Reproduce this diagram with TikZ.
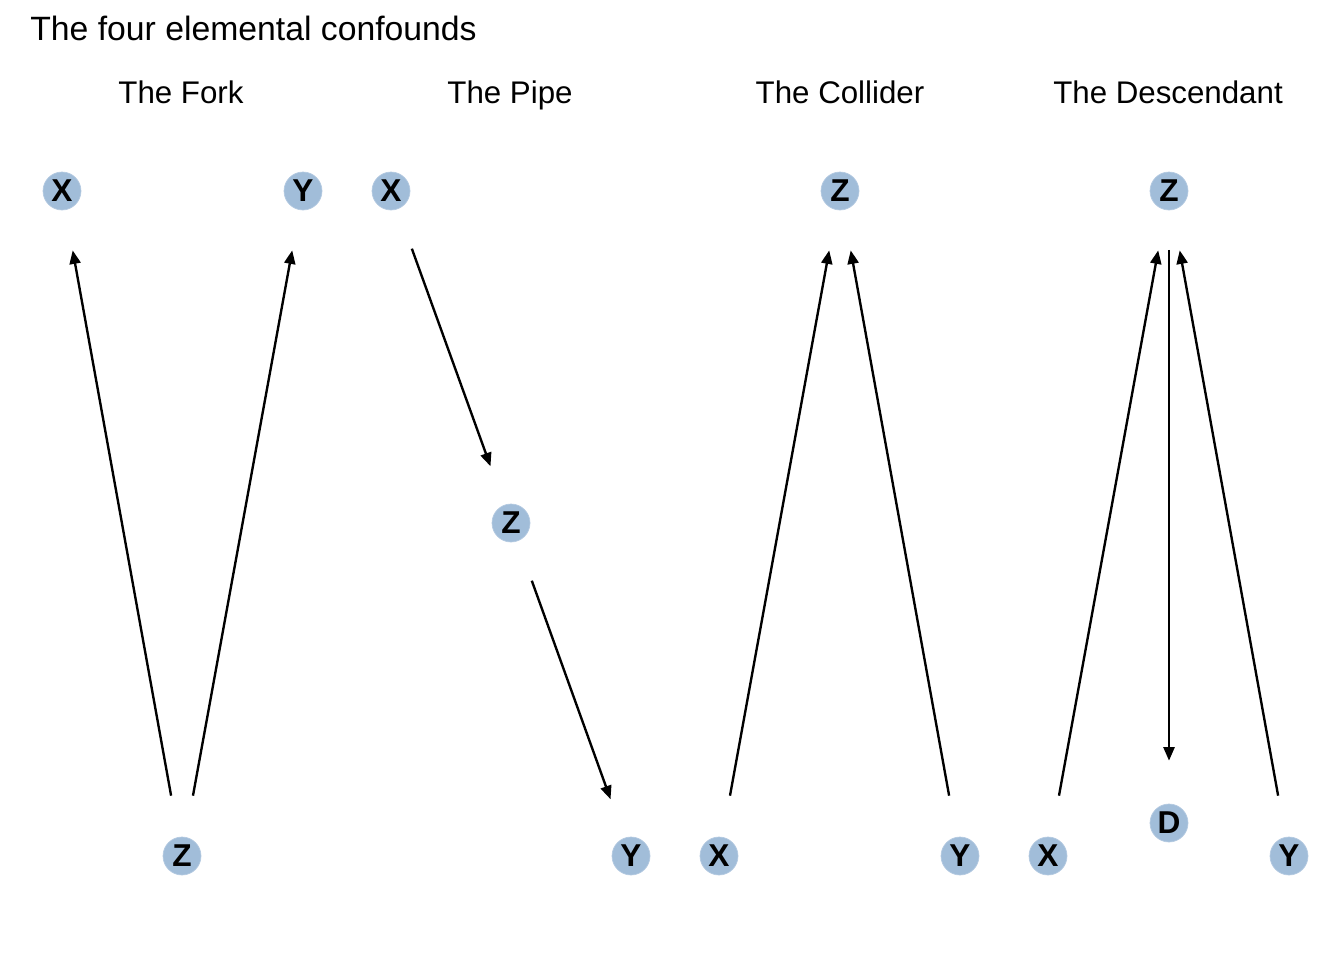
\documentclass[tikz,border=0pt]{standalone}
\usepackage{fontspec}
\setmainfont{Liberation Sans}
\usepackage{xcolor}
\usetikzlibrary{arrows.meta, positioning}
\definecolor{nodeblue}{RGB}{161,189,217}

\begin{document}
\begin{tikzpicture}[x=0.02cm, y=-0.02cm,
    var/.style={circle, fill=nodeblue, draw=nodeblue!80, line width=0.4pt, minimum size=0.76cm, inner sep=0pt, font=\fontsize{18}{18}\selectfont\bfseries},
    cause/.style={-{Triangle[length=0.27cm, width=0.22cm]}, line width=1.35pt, shorten <=0.84cm, shorten >=0.82cm},
    heading/.style={anchor=base, font=\fontsize{17.8}{18}\selectfont}]
                        \useasboundingbox (0, 0) rectangle (1344, 960);
                        \node[anchor=base west, inner sep=0pt, font=\fontsize{19.2}{20}\selectfont] (title) at (30, 40) {The four elemental confounds};
                        \node[heading] (hfork) at (181, 103) {The Fork};
                        \node[heading] (hpipe) at (510, 103) {The Pipe};
                        \node[heading] (hcoll) at (840, 103) {The Collider};
                        \node[heading] (hdesc) at (1168, 103) {The Descendant};
                        % the fork
                        \node[var] (fx) at (62, 191) {X};
                        \node[var] (fy) at (303, 191) {Y};
                        \node[var] (fz) at (182, 856) {Z};
                        % the pipe
                        \node[var] (px) at (391, 191) {X};
                        \node[var] (pz) at (511, 523) {Z};
                        \node[var] (py) at (631, 856) {Y};
                        % the collider
                        \node[var] (cz) at (840, 191) {Z};
                        \node[var] (cx) at (719, 856) {X};
                        \node[var] (cy) at (960, 856) {Y};
                        % the descendant
                        \node[var] (dz) at (1169, 191) {Z};
                        \node[var] (dx) at (1048, 856) {X};
                        \node[var] (dy) at (1289, 856) {Y};
                        \node[var] (dd) at (1169, 823) {D};
                        \draw
                        (fz) edge[cause] (fx)
                        (fz) edge[cause] (fy)
                        (px) edge[cause] (pz)
                        (pz) edge[cause] (py)
                        (cx) edge[cause] (cz)
                        (cy) edge[cause] (cz)
                        (dx) edge[cause] (dz)
                        (dy) edge[cause] (dz)
                        (dz) edge[cause, shorten <=0.79cm, shorten >=0.86cm] (dd);
                    \end{tikzpicture}
\end{document}
